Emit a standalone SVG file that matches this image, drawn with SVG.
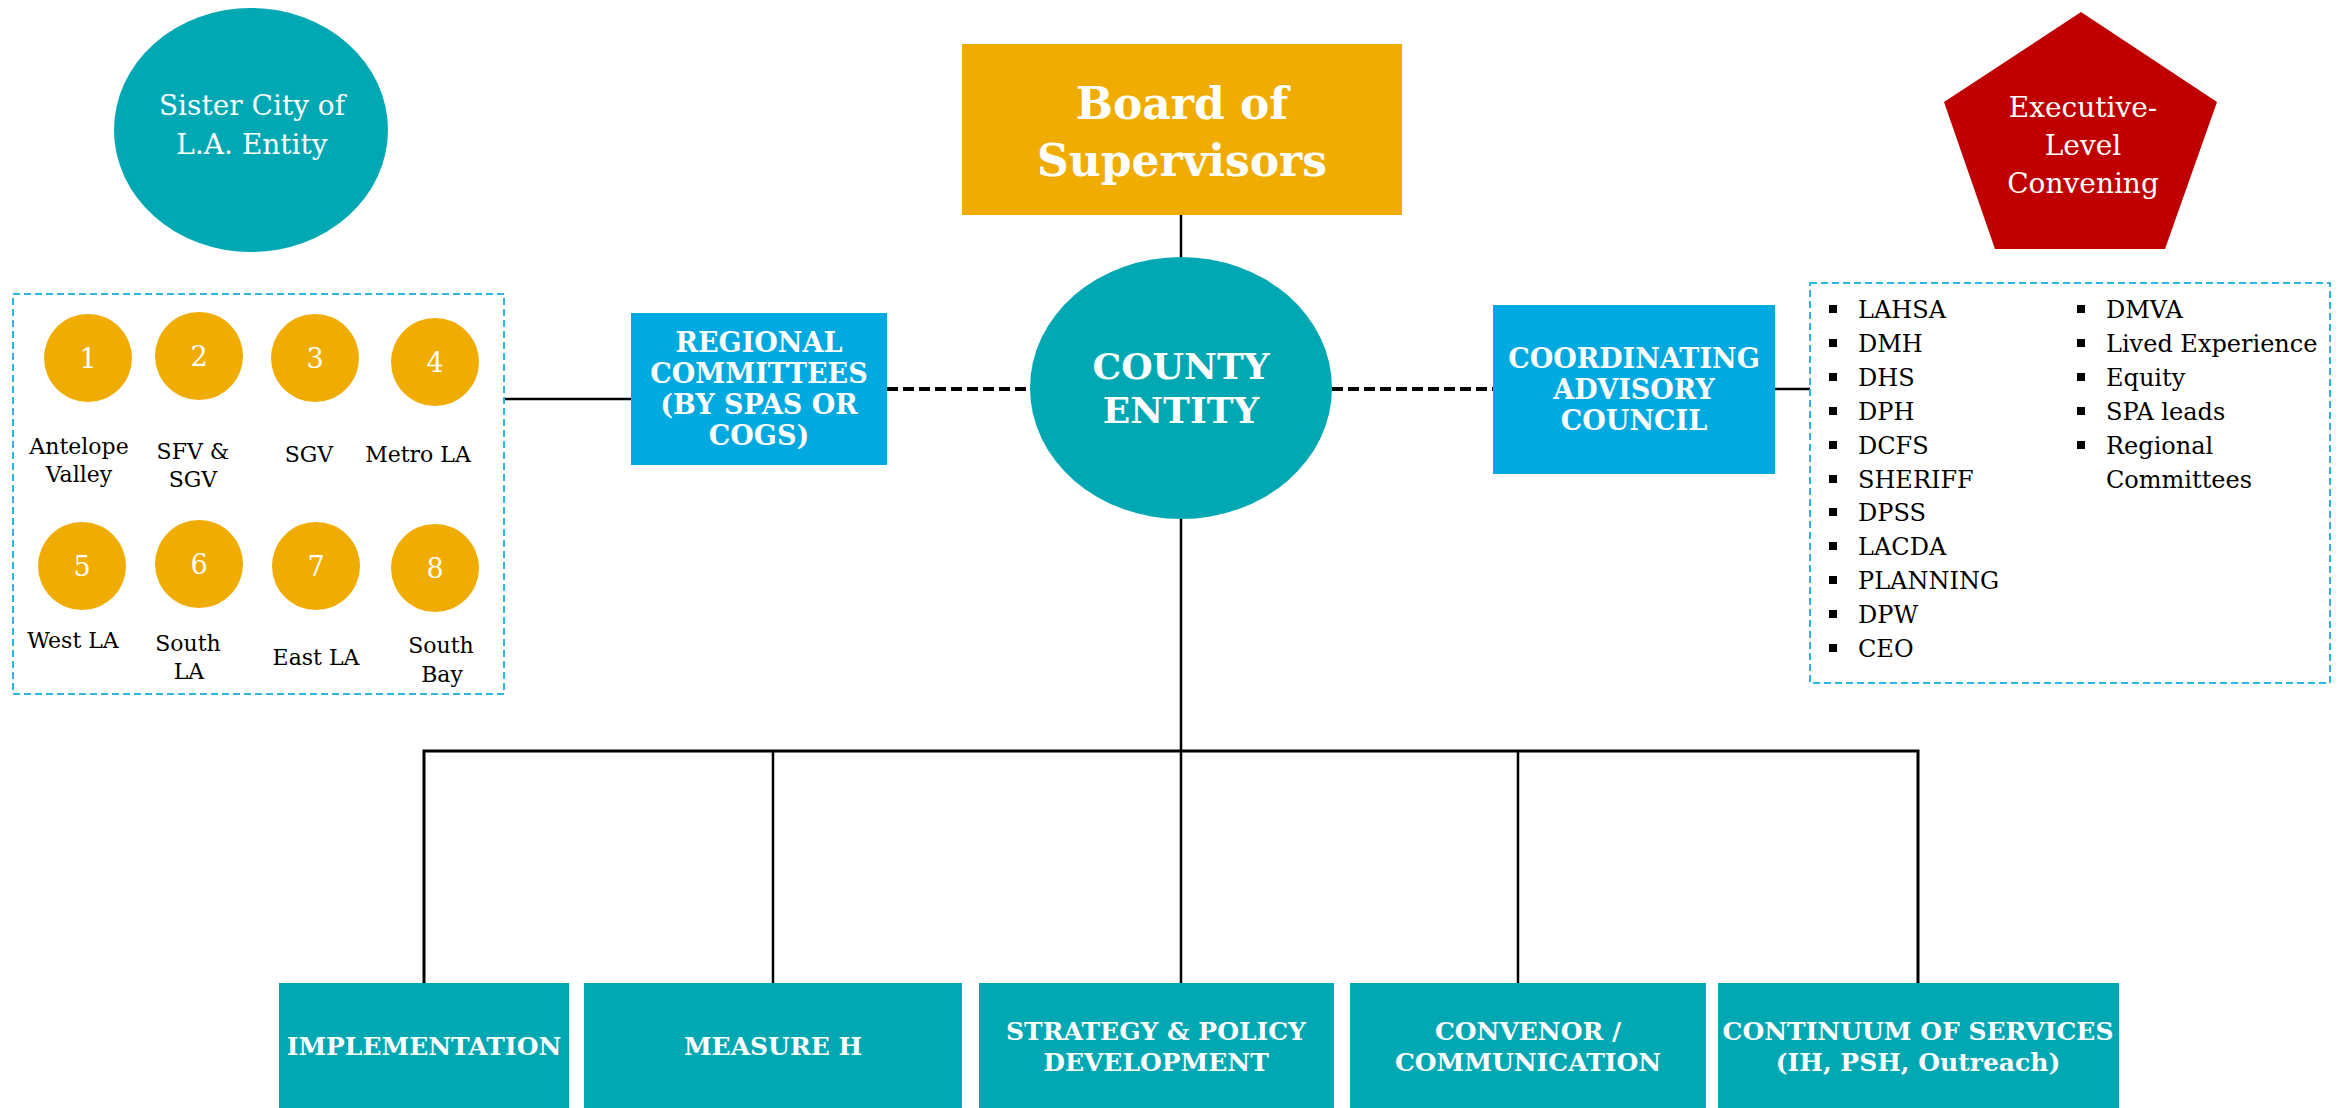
<svg xmlns="http://www.w3.org/2000/svg" width="2343" height="1108" viewBox="0 0 2343 1108">
<style>
.t{font-family:"DejaVu Serif","Liberation Serif",serif;}
.w{fill:#FFFFFF;}
.k{fill:#000000;}
.b{font-weight:bold;}
.teal{fill:#00A8B4;}
.gold{fill:#F0AC00;}
.blue{fill:#00A9DF;}
.red{fill:#C00000;}
.dbox{fill:none;stroke:#2DB5E5;stroke-width:2;stroke-dasharray:7 4;}
.ln{stroke:#000;stroke-width:2.5;fill:none;}
.dl{stroke:#000;stroke-width:4;fill:none;stroke-dasharray:11 5;}
.num{font-size:27px;text-anchor:middle;}
.lab{font-size:22px;text-anchor:middle;}
.li{font-size:24px;}
.box{font-size:27px;text-anchor:middle;}
.bot{font-size:25px;text-anchor:middle;}
</style>
<rect width="2343" height="1108" fill="#FFFFFF"/>

<g id="connectors">
  <line class="ln" x1="1181" y1="215" x2="1181" y2="257"/>
  <line class="ln" x1="1181" y1="518" x2="1181" y2="983"/>
  <line class="ln" x1="504" y1="399" x2="631" y2="399"/>
  <line class="dl" x1="887" y1="389" x2="1030" y2="389"/>
  <line class="dl" x1="1332" y1="389" x2="1493" y2="389"/>
  <line class="ln" x1="1775" y1="389" x2="1810" y2="389"/>
  <polyline class="ln" style="stroke-width:3" points="424,983 424,751 1918,751 1918,983"/>
  <line class="ln" x1="773" y1="751" x2="773" y2="983"/>
  <line class="ln" x1="1518" y1="751" x2="1518" y2="983"/>
</g>

<g id="sister-city">
  <ellipse class="teal" cx="251" cy="130" rx="137" ry="122"/>
  <text class="t w" x="252" y="115" text-anchor="middle" font-size="28">Sister City of</text>
  <text class="t w" x="252" y="154" text-anchor="middle" font-size="28">L.A. Entity</text>
</g>

<g id="regions">
  <rect class="dbox" x="13" y="294" width="491" height="400"/>
  <g id="r1"><circle class="gold" cx="88" cy="358" r="44"/><text class="t w num" x="88" y="368">1</text>
    <text class="t k lab" x="79" y="454">Antelope</text><text class="t k lab" x="79" y="482">Valley</text></g>
  <g id="r2"><circle class="gold" cx="199" cy="356" r="44"/><text class="t w num" x="199" y="366">2</text>
    <text class="t k lab" x="193" y="459">SFV &amp;</text><text class="t k lab" x="193" y="487">SGV</text></g>
  <g id="r3"><circle class="gold" cx="315" cy="358" r="44"/><text class="t w num" x="315" y="368">3</text>
    <text class="t k lab" x="309" y="462">SGV</text></g>
  <g id="r4"><circle class="gold" cx="435" cy="362" r="44"/><text class="t w num" x="435" y="372">4</text>
    <text class="t k lab" x="418" y="462">Metro LA</text></g>
  <g id="r5"><circle class="gold" cx="82" cy="566" r="44"/><text class="t w num" x="82" y="576">5</text>
    <text class="t k lab" x="73" y="648">West LA</text></g>
  <g id="r6"><circle class="gold" cx="199" cy="564" r="44"/><text class="t w num" x="199" y="574">6</text>
    <text class="t k lab" x="188" y="651">South</text><text class="t k lab" x="189" y="679">LA</text></g>
  <g id="r7"><circle class="gold" cx="316" cy="566" r="44"/><text class="t w num" x="316" y="576">7</text>
    <text class="t k lab" x="316" y="665">East LA</text></g>
  <g id="r8"><circle class="gold" cx="435" cy="568" r="44"/><text class="t w num" x="435" y="578">8</text>
    <text class="t k lab" x="441" y="653">South</text><text class="t k lab" x="442" y="682">Bay</text></g>
</g>

<g id="board">
  <rect class="gold" x="962" y="44" width="440" height="171"/>
  <text class="t w b" x="1182" y="119" text-anchor="middle" font-size="44">Board of</text>
  <text class="t w b" x="1182" y="176" text-anchor="middle" font-size="44">Supervisors</text>
</g>

<g id="regional-committees">
  <rect class="blue" x="631" y="313" width="256" height="152"/>
  <text class="t w b box" x="759" y="352">REGIONAL</text>
  <text class="t w b box" x="759" y="383">COMMITTEES</text>
  <text class="t w b box" x="759" y="414">(BY SPAS OR</text>
  <text class="t w b box" x="759" y="445">COGS)</text>
</g>

<g id="county-entity">
  <ellipse class="teal" cx="1181" cy="388" rx="151" ry="131"/>
  <text class="t w b" x="1181" y="379" text-anchor="middle" font-size="36">COUNTY</text>
  <text class="t w b" x="1181" y="423" text-anchor="middle" font-size="36">ENTITY</text>
</g>

<g id="coordinating-council">
  <rect class="blue" x="1493" y="305" width="282" height="169"/>
  <text class="t w b box" x="1634" y="368">COORDINATING</text>
  <text class="t w b box" x="1634" y="399">ADVISORY</text>
  <text class="t w b box" x="1634" y="430">COUNCIL</text>
</g>

<g id="executive-convening">
  <polygon class="red" points="2081,12 2217,102 2165,249 1995,249 1944,102"/>
  <text class="t w" x="2083" y="117" text-anchor="middle" font-size="28">Executive-</text>
  <text class="t w" x="2083" y="155" text-anchor="middle" font-size="28">Level</text>
  <text class="t w" x="2083" y="193" text-anchor="middle" font-size="28">Convening</text>
</g>

<g id="members">
  <rect class="dbox" x="1810" y="283" width="520" height="400"/>
  <g class="k">
    <rect x="1829" y="305" width="8" height="8"/>
    <rect x="1829" y="339" width="8" height="8"/>
    <rect x="1829" y="373" width="8" height="8"/>
    <rect x="1829" y="407" width="8" height="8"/>
    <rect x="1829" y="441" width="8" height="8"/>
    <rect x="1829" y="475" width="8" height="8"/>
    <rect x="1829" y="508" width="8" height="8"/>
    <rect x="1829" y="542" width="8" height="8"/>
    <rect x="1829" y="576" width="8" height="8"/>
    <rect x="1829" y="610" width="8" height="8"/>
    <rect x="1829" y="644" width="8" height="8"/>
    <rect x="2077" y="305" width="8" height="8"/>
    <rect x="2077" y="339" width="8" height="8"/>
    <rect x="2077" y="373" width="8" height="8"/>
    <rect x="2077" y="407" width="8" height="8"/>
    <rect x="2077" y="441" width="8" height="8"/>
  </g>
  <text class="t k li" x="1858" y="318">LAHSA</text>
  <text class="t k li" x="1858" y="352">DMH</text>
  <text class="t k li" x="1858" y="386">DHS</text>
  <text class="t k li" x="1858" y="420">DPH</text>
  <text class="t k li" x="1858" y="454">DCFS</text>
  <text class="t k li" x="1858" y="488">SHERIFF</text>
  <text class="t k li" x="1858" y="521">DPSS</text>
  <text class="t k li" x="1858" y="555">LACDA</text>
  <text class="t k li" x="1858" y="589">PLANNING</text>
  <text class="t k li" x="1858" y="623">DPW</text>
  <text class="t k li" x="1858" y="657">CEO</text>
  <text class="t k li" x="2106" y="318">DMVA</text>
  <text class="t k li" x="2106" y="352">Lived Experience</text>
  <text class="t k li" x="2106" y="386">Equity</text>
  <text class="t k li" x="2106" y="420">SPA leads</text>
  <text class="t k li" x="2106" y="454">Regional</text>
  <text class="t k li" x="2106" y="488">Committees</text>
</g>

<g id="implementation">
  <rect class="teal" x="279" y="983" width="290" height="125"/>
  <text class="t w b bot" x="424" y="1055">IMPLEMENTATION</text>
</g>
<g id="measure-h">
  <rect class="teal" x="584" y="983" width="378" height="125"/>
  <text class="t w b bot" x="773" y="1055">MEASURE H</text>
</g>
<g id="strategy-policy">
  <rect class="teal" x="979" y="983" width="355" height="125"/>
  <text class="t w b bot" x="1156" y="1040">STRATEGY &amp; POLICY</text>
  <text class="t w b bot" x="1156" y="1071">DEVELOPMENT</text>
</g>
<g id="convenor">
  <rect class="teal" x="1350" y="983" width="356" height="125"/>
  <text class="t w b bot" x="1528" y="1040">CONVENOR /</text>
  <text class="t w b bot" x="1528" y="1071">COMMUNICATION</text>
</g>
<g id="continuum">
  <rect class="teal" x="1718" y="983" width="401" height="125"/>
  <text class="t w b bot" x="1918" y="1040">CONTINUUM OF SERVICES</text>
  <text class="t w b bot" x="1918" y="1071">(IH, PSH, Outreach)</text>
</g>
</svg>
